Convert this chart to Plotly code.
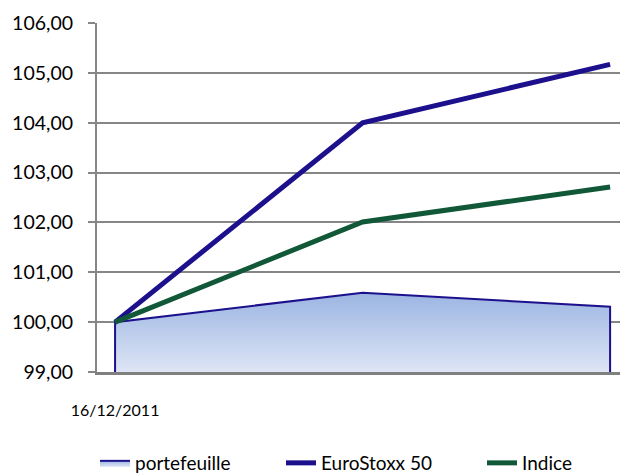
import plotly.graph_objects as go

# Data
categories = ["16/12/2011", "", ""]
x_idx = [0, 1, 2]
portefeuille = [100.00, 100.59, 100.31]
eurostoxx = [100.00, 104.00, 105.17]
indice = [100.00, 102.01, 102.71]
y_ticks = [99, 100, 101, 102, 103, 104, 105, 106]
y_labels = ["99,00", "100,00", "101,00", "102,00", "103,00", "104,00", "105,00", "106,00"]

y_min, y_max = y_ticks[0], y_ticks[-1]
W, H = 620, 475

fig = go.Figure()

# Area (closed polygon down to axis minimum)
px = [x_idx[0]] + x_idx + [x_idx[-1]]
py = [y_min] + portefeuille + [y_min]
fig.add_trace(go.Scatter(
    x=px, y=py, mode="lines", fill="toself", name="portefeuille",
    line=dict(color="rgb(28,16,140)", width=2),
    fillgradient=dict(type="vertical", start=y_min, stop=max(portefeuille),
                      colorscale=[[0, "rgb(222,229,245)"], [1, "rgb(155,181,226)"]]),
    hoverinfo="skip", legend="legend",
))
fig.add_trace(go.Scatter(
    x=x_idx, y=eurostoxx, mode="lines", name="EuroStoxx 50",
    line=dict(color="rgb(28,16,140)", width=5), legend="legend2",
))
fig.add_trace(go.Scatter(
    x=x_idx, y=indice, mode="lines", name="Indice",
    line=dict(color="rgb(16,88,56)", width=5), legend="legend3",
))

leg_common = dict(orientation="h", xref="container", yref="container",
                  yanchor="middle", y=1 - 463 / H, font=dict(size=19, family="Lato"),
                  itemwidth=30, bgcolor="rgba(0,0,0,0)")

fig.update_layout(
    width=W, height=H,
    margin=dict(l=97, r=0, t=23, b=103, autoexpand=False),
    paper_bgcolor="white", plot_bgcolor="white",
    font=dict(family="Lato", color="black"),
    showlegend=True,
    legend=dict(x=95 / W, **leg_common),
    legend2=dict(x=281 / W, **leg_common),
    legend3=dict(x=482 / W, **leg_common),
)
fig.update_xaxes(
    range=[-0.073, 2.04], tickvals=x_idx, ticktext=categories, automargin=False,
    showgrid=False, zeroline=False, showline=True, linecolor="rgb(128,128,128)", linewidth=3,
    ticks="", ticklabelstandoff=22, tickfont=dict(size=16),
)
fig.update_yaxes(
    range=[y_min, y_max], tickvals=y_ticks, ticktext=y_labels, automargin=False,
    showgrid=True, gridcolor="rgb(134,134,134)", gridwidth=1.5, zeroline=False,
    showline=True, linecolor="rgb(134,134,134)", linewidth=2,
    ticks="outside", ticklen=7, tickcolor="rgb(134,134,134)", tickwidth=1.5,
    ticklabelstandoff=11, tickfont=dict(size=19.5),
)

fig.write_html(
    "out.html",
    config={"displayModeBar": False},
    post_script="document.body.style.margin='0';document.body.style.padding='0';"
                "document.body.style.overflow='hidden';",
)
